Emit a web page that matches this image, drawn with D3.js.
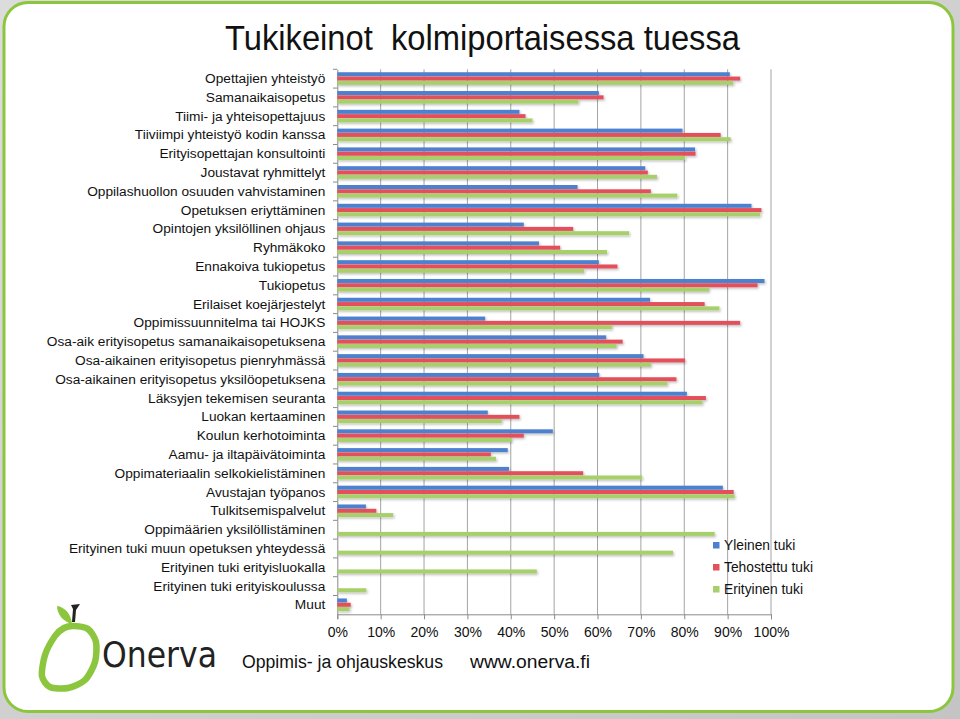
<!DOCTYPE html>
<html><head><meta charset="utf-8">
<script src="https://cdn.jsdelivr.net/npm/d3@7/dist/d3.min.js"></script>
<style>
html,body{margin:0;padding:0;background:#d2d2d2;}
svg{display:block;font-family:"Liberation Sans",Arial,sans-serif;}
</style></head>
<body>
<script>
const categories = [
 "Opettajien yhteistyö","Samanaikaisopetus","Tiimi- ja yhteisopettajuus","Tiiviimpi yhteistyö kodin kanssa",
 "Erityisopettajan konsultointi","Joustavat ryhmittelyt","Oppilashuollon osuuden vahvistaminen","Opetuksen eriyttäminen",
 "Opintojen yksilöllinen ohjaus","Ryhmäkoko","Ennakoiva tukiopetus","Tukiopetus","Erilaiset koejärjestelyt",
 "Oppimissuunnitelma tai HOJKS","Osa-aik erityisopetus samanaikaisopetuksena","Osa-aikainen erityisopetus pienryhmässä",
 "Osa-aikainen erityisopetus yksilöopetuksena","Läksyjen tekemisen seuranta","Luokan kertaaminen","Koulun kerhotoiminta",
 "Aamu- ja iltapäivätoiminta","Oppimateriaalin selkokielistäminen","Avustajan työpanos","Tulkitsemispalvelut",
 "Oppimäärien yksilöllistäminen","Erityinen tuki muun opetuksen yhteydessä","Erityinen tuki erityisluokalla",
 "Erityinen tuki erityiskoulussa","Muut"];
const seriesNames = ["Yleinen tuki","Tehostettu tuki","Erityinen tuki"];
const yleinen =    [90.5,60.3,42.0,79.6,82.5,71.0,55.4,95.5,43.0,46.5,60.3,98.5,72.1,34.1,62.0,70.6,60.4,80.6,34.7,49.7,39.3,39.6,88.9,6.6,null,null,null,null,2.2];
const tehostettu = [92.9,61.4,43.4,88.4,82.6,71.6,72.3,97.8,54.4,51.4,64.6,96.9,84.7,92.9,65.8,80.2,78.2,85.0,42.0,43.0,35.4,56.7,91.4,9.0,null,null,null,null,3.1];
const erityinen =  [91.3,55.6,45.0,90.7,80.2,73.7,78.4,97.5,67.3,62.2,56.9,85.7,88.1,63.3,64.4,72.3,76.1,84.2,37.9,40.2,36.6,70.3,91.6,12.9,87.0,77.4,46.0,6.7,2.8];
const xTicks = [0,10,20,30,40,50,60,70,80,90,100];
const colors = ["#4d80cf","#e4505c","#a7cf6b"];

const W=960,H=719;
const svg=d3.select("body").append("svg").attr("width",W).attr("height",H);
const defs=svg.append("defs");
const bg=defs.append("linearGradient").attr("id","bgg").attr("x1",0).attr("y1",0).attr("x2",1).attr("y2",1);
bg.append("stop").attr("offset","0%").attr("stop-color","#dcdcdc");
bg.append("stop").attr("offset","100%").attr("stop-color","#c4c4c4");
const f=defs.append("filter").attr("id","sh").attr("x","-5%").attr("y","-50%").attr("width","110%").attr("height","200%");
f.append("feDropShadow").attr("dx",1.2).attr("dy",1.5).attr("stdDeviation",0.8).attr("flood-color","#000").attr("flood-opacity",0.25);

svg.append("rect").attr("width",W).attr("height",H).attr("fill","url(#bgg)");
svg.append("rect").attr("x",4).attr("y",2.5).attr("width",949).attr("height",709).attr("rx",24).attr("ry",24)
  .attr("fill","#fff").attr("stroke","#8cc63e").attr("stroke-width",3);

// title
svg.append("text").attr("x",225).attr("y",50).attr("font-size",35).attr("fill","#111")
  .attr("textLength",515).attr("lengthAdjust","spacingAndGlyphs")
  .style("white-space","pre").text("Tukikeinot  kolmiportaisessa tuessa");

const x=d3.scaleLinear().domain([0,100]).range([337.3,771]);
const y=d3.scaleBand().domain(categories).range([69.3,614.3]).padding(0);
const gh=12.9;
const yi=d3.scaleBand().domain(seriesNames).range([(y.bandwidth()-gh)/2,(y.bandwidth()+gh)/2]).padding(0);

// gridlines
svg.append("g").selectAll("line").data(xTicks.slice(1)).join("line")
  .attr("x1",d=>x(d)).attr("x2",d=>x(d)).attr("y1",69.3).attr("y2",614.3)
  .attr("stroke","#a4a4a4").attr("stroke-width",1);

// bottom axis
const xAxis=svg.append("g").attr("transform","translate(0,614.3)")
  .call(d3.axisBottom(x).tickValues(xTicks).tickFormat(d=>d+"%").tickSize(5).tickPadding(8));
xAxis.select(".domain").attr("stroke","#8a8a8a");
xAxis.selectAll(".tick line").attr("stroke","#8a8a8a");
xAxis.selectAll("text").attr("font-size",14).attr("fill","#111").attr("font-family","Liberation Sans, Arial, sans-serif");

// left axis
const yAxis=svg.append("g").attr("transform","translate(337.3,0)")
  .call(d3.axisLeft(y).tickSize(0).tickPadding(12));
yAxis.select(".domain").attr("stroke","#8a8a8a");
yAxis.selectAll("text").attr("font-size",13.7).attr("fill","#111").attr("font-family","Liberation Sans, Arial, sans-serif");
// boundary ticks
svg.append("g").selectAll("line").data(categories).join("line")
  .attr("x1",333).attr("x2",337.3).attr("y1",d=>y(d)).attr("y2",d=>y(d)).attr("stroke","#8a8a8a");

// bars
const seriesData=[yleinen,tehostettu,erityinen];
const bars=svg.append("g").attr("filter","url(#sh)");
seriesData.forEach((vals,si)=>{
  bars.append("g").selectAll("rect").data(categories.map((c,i)=>({c,v:vals[i]})).filter(d=>d.v!=null)).join("rect")
   .attr("x",x(0)).attr("y",d=>y(d.c)+yi(seriesNames[si]))
   .attr("width",d=>x(d.v)-x(0)).attr("height",yi.bandwidth()-0.3)
   .attr("fill",colors[si]);
});

// legend
const lg=svg.append("g");
seriesNames.forEach((s,i)=>{
  lg.append("rect").attr("x",713).attr("y",542+i*22).attr("width",6.5).attr("height",6.5).attr("fill",colors[i]);
  lg.append("text").attr("x",724).attr("y",550+i*22).attr("font-size",13.8).attr("fill","#111").text(s);
});

// logo
const lgo=svg.append("g");
const pts=[[74,626],[88,629],[96,642],[95,662],[85,680],[68,688],[50,687],[42,676],[45,655],[55,636],[64,628]];
lgo.append("path").attr("d",d3.line().curve(d3.curveCardinalClosed.tension(0.2))(pts))
  .attr("fill","none").attr("stroke","#8cc63e").attr("stroke-width",6.5);
lgo.append("path").attr("d","M72,624 C64,622 57,615 57,606 C64,607 71,613 72,624 Z").attr("fill","#8cc63e");
lgo.append("path").attr("d","M72,622 L73,609 L71,605 L80,604 L76,610 L75,622 Z").attr("fill","#222");
svg.append("text").attr("x",102).attr("y",667).attr("font-size",35).attr("fill","#222")
  .attr("font-family","DejaVu Sans, sans-serif").attr("textLength",115).attr("lengthAdjust","spacingAndGlyphs").text("Onerva");
svg.append("text").attr("x",242).attr("y",668).attr("font-size",18).attr("fill","#111")
  .attr("textLength",201).attr("lengthAdjust","spacingAndGlyphs").text("Oppimis- ja ohjauskeskus");
svg.append("text").attr("x",470).attr("y",668).attr("font-size",18).attr("fill","#111")
  .attr("textLength",120).attr("lengthAdjust","spacingAndGlyphs").text("www.onerva.fi");
</script>
</body></html>
